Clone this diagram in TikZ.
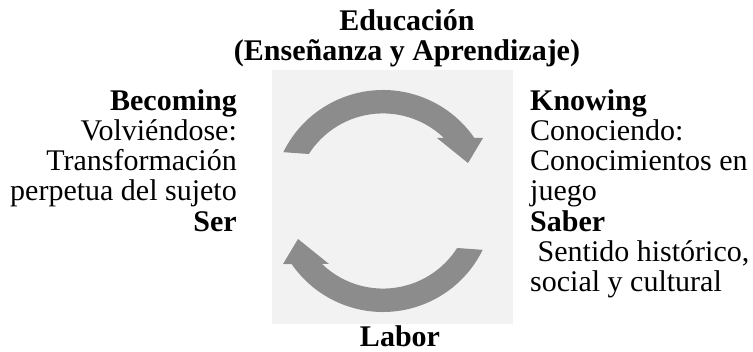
\documentclass[tikz,border=0pt]{standalone}
\usepackage{fontspec}
\setmainfont{Liberation Serif}
\definecolor{boxgray}{RGB}{242,242,242}
\definecolor{arrowgray}{RGB}{140,140,140}
\tikzset{
  txt/.style={inner sep=0pt, font=\fontsize{30}{30.3}\selectfont},
  cyclearrow/.style={fill=arrowgray, draw=none},
}
\begin{document}
\begin{tikzpicture}[x=1pt,y=1pt]
\useasboundingbox (0,0) rectangle (753,-352);

% background square
\fill[boxgray] (272,-70) rectangle (513,-324);

% upper arrow
\begin{scope}[shift={(383,-201)}]
\path[cyclearrow] (153.9:111) arc[start angle=153.9, end angle=34.6, radius=111]
  -- (100,63) -- (85,38) -- (54,63) -- (61,63)
  arc[start angle=46.1, end angle=147.4, radius=88] -- cycle;
\end{scope}

% lower arrow
\begin{scope}[shift={(383,-201)},rotate=180]
\path[cyclearrow] (153.9:111) arc[start angle=153.9, end angle=34.6, radius=111]
  -- (100,63) -- (85,38) -- (54,63) -- (61,63)
  arc[start angle=46.1, end angle=147.4, radius=88] -- cycle;
\end{scope}

\node[txt, align=center, anchor=north] (edu) at (407,-9)
  {\textbf{Educación}\\\textbf{(Enseñanza y Aprendizaje)}};
\node[txt, anchor=north] (labor) at (400,-325) {\textbf{Labor}};

\node[txt, align=right, anchor=north east] (becoming) at (237,-89)
  {\textbf{Becoming}\\Volviéndose:\\Transformación\\perpetua del sujeto\\\textbf{Ser}};
\node[txt, align=left, anchor=north west] (knowing) at (530,-89)
  {\textbf{Knowing}\\Conociendo:\\Conocimientos en\\juego\\\textbf{Saber}\\\ Sentido histórico,\\social y cultural};

\end{tikzpicture}
\end{document}
